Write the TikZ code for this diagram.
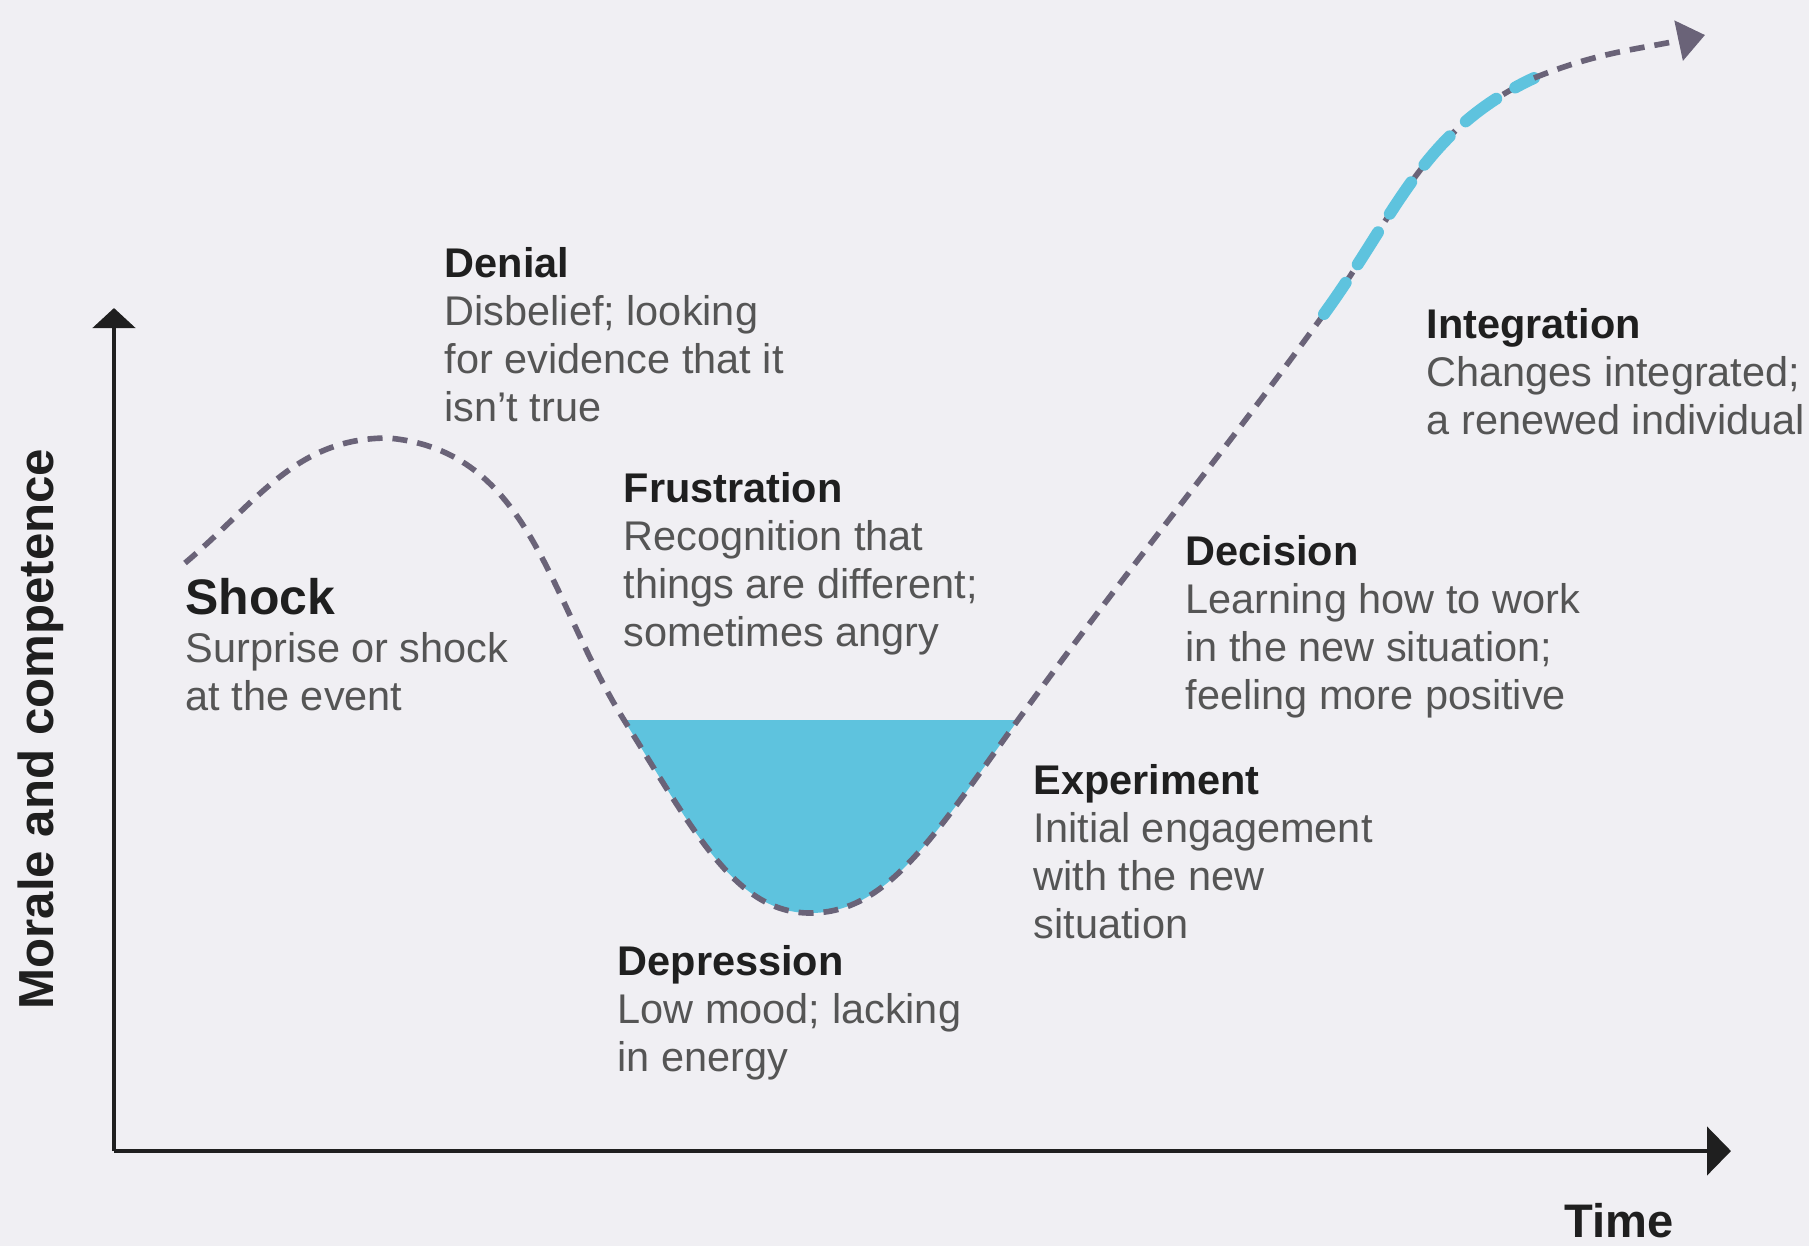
\documentclass[tikz,border=0pt]{standalone}
\usepackage{fontspec}
\setmainfont{Liberation Sans}
\usetikzlibrary{arrows.meta}
\definecolor{sfondo}{HTML}{F0EFF3}
\definecolor{curva}{HTML}{6A6378}
\definecolor{azzurro}{HTML}{5EC3DE}
\definecolor{testo}{HTML}{555555}
\newcommand{\titolo}[1]{{\color{black!88}\bfseries #1}}
\tikzset{
fase/.style={anchor=north west,align=left,inner sep=0pt,text=testo,font=\fontsize{11.8}{13.6}\selectfont},
asse/.style={line width=1.4pt,draw=black!88},
tratteggio/.style={draw=curva,line width=1.6pt,dash pattern=on 0.15cm off 0.1cm},
striscia/.style={draw=azzurro,line width=3.4pt,line cap=round,dash pattern=on 0.38cm off 0.22cm},
etichetta/.style={text=black!88,font=\bfseries\fontsize{13.4}{16}\selectfont}}

\begin{document}
\begin{tikzpicture}
\fill[sfondo] (0,0) rectangle (18.09,-12.46);
\useasboundingbox (0,0) rectangle (18.09,-12.46);

\coordinate (origine) at (1.14,-11.51);
\coordinate (cima) at (1.14,-3.08);
\coordinate (fine) at (17.31,-11.51);

\coordinate (inizio) at (1.85,-5.63);
\coordinate (picco) at (3.88,-4.38);
\coordinate (sx) at (6.24,-7.20);
\coordinate (fondo) at (8.10,-9.13);
\coordinate (dx) at (10.18,-7.20);
\coordinate (salita) at (13.24,-3.14);
\coordinate (curvatura) at (15.34,-0.78);
\coordinate (punta) at (17.05,-0.35);

\fill[azzurro] (sx) to[out=-58,in=180,out looseness=1.3,in looseness=0.7] (fondo)
	to[out=0,in=234,out looseness=0.7,in looseness=1.3] (dx) -- cycle;

\draw[tratteggio] (inizio) to[out=40,in=180] (picco)
	to[out=-5,in=122] (sx)
	to[out=-58,in=180,out looseness=1.3,in looseness=0.7] (fondo)
	to[out=0,in=234,out looseness=0.7,in looseness=1.3] (dx)
	to[out=54,in=234] (salita)
	to[out=54,in=205] (curvatura);
\draw[striscia] (salita) to[out=54,in=205] (curvatura);
\draw[tratteggio,-{Triangle[width=0.40cm,length=0.27cm]}] (curvatura) to[out=22,in=192] (punta);

\draw[asse,-{Triangle[width=0.42cm,length=0.2cm]}] (origine) -- (cima);
\draw[asse,-{Triangle[width=0.48cm,length=0.24cm]}] (origine) -- (fine);

\node[etichetta,anchor=base] (tempo) at (16.19,-12.37) {Time};
\node[etichetta,font=\bfseries\fontsize{14}{16}\selectfont,rotate=90] (morale) at (0.41,-7.29) {Morale and competence};

\node[fase] (shock) at (1.85,-5.78) {{\fontsize{14.2}{16}\selectfont\titolo{Shock}}\\Surprise or shock\\at the event};
\node[fase] (denial) at (4.44,-2.47) {\titolo{Denial}\\Disbelief; looking\\for evidence that it\\isn’t true};
\node[fase] (frustration) at (6.23,-4.72) {\titolo{Frustration}\\Recognition that\\things are different;\\sometimes angry};
\node[fase] (depression) at (6.17,-9.45) {\titolo{Depression}\\Low mood; lacking\\in energy};
\node[fase] (experiment) at (10.33,-7.64) {\titolo{Experiment}\\Initial engagement\\with the new\\situation};
\node[fase] (decision) at (11.85,-5.35) {\titolo{Decision}\\Learning how to work\\in the new situation;\\feeling more positive};
\node[fase] (integration) at (14.26,-3.08) {\titolo{Integration}\\Changes integrated;\\a renewed individual};
\end{tikzpicture}
\end{document}
